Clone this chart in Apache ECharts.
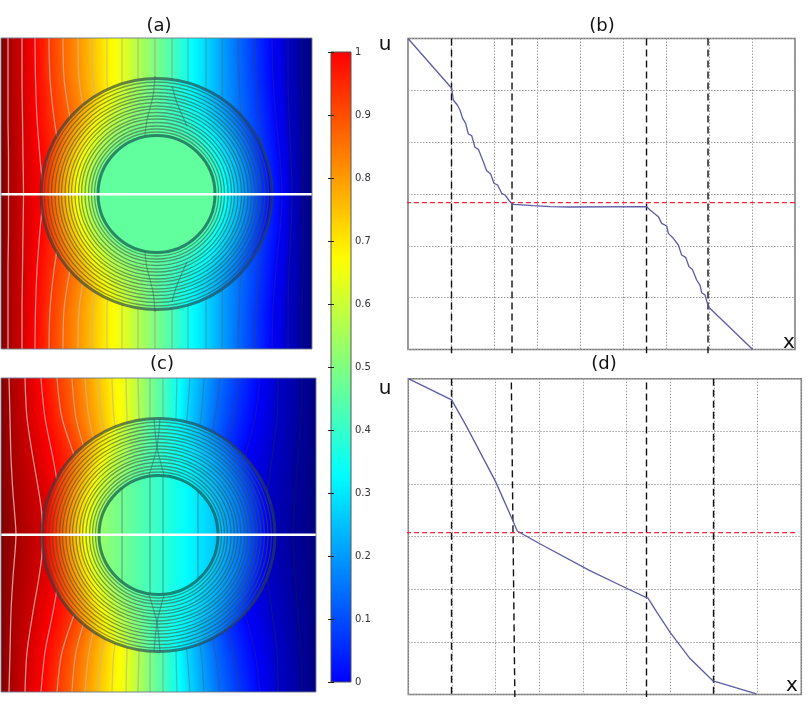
<!DOCTYPE html>
<html lang="en">
<head>
    <meta charset="UTF-8">
    <title>Potential maps and profiles</title>
    <script src="https://cdn.jsdelivr.net/npm/echarts@6/dist/echarts.min.js"></script>
    <style>
        html, body, #main {
            width: 812px;
            height: 712px;
            padding: 0;
            margin: 0;
            background: #fff;
        }
    </style>
</head>
<body>
<div id="main"></div>
<script>
    // colour table: u value -> colour (the map runs past the colour bar at both ends)
    var colorU = [-0.14, 0, 0.33, 0.5, 0.67, 1, 1.14];
    var colorRGB = [[0, 0, 127], [0, 0, 255], [0, 255, 255], [128, 255, 128], [255, 255, 0], [255, 0, 0], [127, 0, 0]];

    // u value of each contour, left to right, plus the values on the plot edges
    var contourLevels = [1.10, 1.05, 1.0, 0.93, 0.87, 0.81, 0.75, 0.69, 0.64, 0.57, 0.50, 0.43, 0.35, 0.28, 0.21, 0.14, 0.07, 0, -0.06, -0.11];
    var edgeLeft = 1.14;
    var edgeRight = -0.14;

    // panel (a): contour x read at each row y
    var rowsA = [0, 40, 80, 120, 156, 192, 232, 272, 311];
    var contoursA = [
        [7, 7, 7, 7.5, 7.5, 7.5, 7, 7, 7],
        [21, 21, 21.5, 22, 22.5, 22, 21.5, 21, 21],
        [34, 34.5, 36, 39, 42, 39, 36, 34.5, 34],
        [48, 49, 53, 59, 62, 59, 53, 49, 48],
        [62, 63, 69, 78, 82, 78, 69, 63, 62],
        [77, 78, 84, 92, 96, 92, 84, 78, 77],
        [91, 92, 97, 104, 108, 104, 97, 92, 91],
        [106, 106, 110, 115, 118, 115, 110, 106, 106],
        [121, 121, 124, 128, 130, 128, 124, 121, 121],
        [137, 137, 138, 140, 141, 140, 138, 137, 137],
        [154, 154, 154, 154, 154, 154, 154, 154, 154],
        [171, 171, 171, 171, 171, 171, 171, 171, 171],
        [187, 187, 188, 188, 188, 188, 188, 187, 187],
        [205, 205, 205, 205, 205, 205, 205, 205, 205],
        [221, 221, 222, 223, 223, 223, 222, 221, 221],
        [237, 238, 240, 242, 243, 242, 240, 238, 237],
        [254, 255, 258, 262, 263, 262, 258, 255, 254],
        [271, 272, 275, 279, 281, 279, 275, 272, 271],
        [287, 287, 288, 290, 291, 290, 288, 287, 287],
        [301, 301, 302, 302, 302, 302, 302, 301, 301]
    ];

    // panel (c)
    var rowsC = [0, 40, 80, 115, 140, 157, 174, 199, 234, 274, 314];
    var contoursC = [
        [8, 9, 10, 12, 14, 15, 14, 12, 10, 9, 8],
        [24, 26, 32, 38, 41, 41, 41, 38, 32, 26, 24],
        [40, 44, 52, 58, 62, 64, 62, 58, 52, 44, 40],
        [56, 61, 74, 85, 90, 92, 90, 85, 74, 61, 56],
        [71, 75, 86, 96, 101, 102, 101, 96, 86, 75, 71],
        [84, 88, 97, 106, 111, 113, 111, 106, 97, 88, 84],
        [97, 101, 109, 116, 121, 122, 121, 116, 109, 101, 97],
        [111, 113, 119, 124, 127, 128, 127, 124, 119, 113, 111],
        [125, 126, 128, 131, 133, 134, 133, 131, 128, 126, 125],
        [137, 138, 139, 141, 142, 142, 142, 141, 139, 138, 137],
        [149, 149, 149, 149, 149, 149, 149, 149, 149, 149, 149],
        [162, 162, 162, 162, 162, 162, 162, 162, 162, 162, 162],
        [176, 175, 174, 173, 172, 172, 172, 173, 174, 175, 176],
        [189, 186, 182, 179, 177, 176, 177, 179, 182, 186, 189],
        [203, 200, 194, 190, 187, 186, 187, 190, 194, 200, 203],
        [219, 214, 206, 199, 196, 194, 196, 199, 206, 214, 219],
        [239, 232, 222, 216, 211, 209, 211, 216, 222, 232, 239],
        [259, 254, 244, 238, 233, 231, 233, 238, 244, 254, 259],
        [277, 276, 271, 266, 262, 261, 262, 266, 271, 276, 277],
        [301, 300, 297, 294, 293, 292, 293, 294, 297, 300, 301]
    ];

    // concentric rings, outermost first. u read along the white line on each side
    var ringRadiusA = [115.5, 112, 108.5, 105, 101.5, 98, 95, 91.5, 88, 85, 81.5, 78, 75, 71.5, 68, 65, 62, 58.5];
    var ringLeftA = [0.97, 0.94, 0.91, 0.88, 0.85, 0.82, 0.79, 0.76, 0.73, 0.70, 0.67, 0.64, 0.61, 0.58, 0.55, 0.52, 0.49, 0.46];
    var ringRightA = [0, 0.03, 0.05, 0.08, 0.10, 0.13, 0.15, 0.18, 0.20, 0.23, 0.25, 0.28, 0.30, 0.33, 0.36, 0.39, 0.42, 0.46];
    var ringMidA = 0.46;

    var ringRadiusC = [116.5, 113, 109.5, 106, 102.5, 99, 96, 92.5, 89, 86, 82.5, 79, 76, 72.5, 69, 66, 63, 59.5];
    var ringLeftC = [1.04, 1.0, 0.98, 0.95, 0.92, 0.89, 0.86, 0.83, 0.80, 0.77, 0.74, 0.71, 0.68, 0.65, 0.62, 0.59, 0.56, 0.53];
    var ringRightC = [-0.05, -0.03, -0.01, 0.02, 0.04, 0.06, 0.08, 0.10, 0.12, 0.14, 0.15, 0.17, 0.18, 0.20, 0.21, 0.23, 0.24, 0.25];
    var ringMidC = 0.40;

    // faint contours inside the annulus and the disc: [x, y]
    var innerLinesA = [
        [[154, 38], [152, 58], [146, 82], [144, 97]],
        [[171, 48], [176, 65], [186, 88]],
        [[154, 274], [152, 254], [146, 230], [144, 215]],
        [[171, 264], [176, 247], [186, 224]]
    ];
    var innerLinesC = [
        [[159, 40], [156, 69], [148, 97]],
        [[153, 40], [156, 69], [163, 97]],
        [[159, 274], [156, 245], [148, 217]],
        [[153, 274], [156, 245], [163, 217]],
        [[121, 110], [121, 204]],
        [[149, 98], [149, 216]],
        [[162, 98], [162, 216]],
        [[197, 113], [197, 201]]
    ];

    var barRange = [0, 1];

    // profile (b): x in grid divisions, u in grid divisions
    var profileB = [[0, 6], [1.016, 5.04], [1.054, 5.007], [1.054, 4.814], [1.147, 4.717], [1.209, 4.621], [1.271, 4.46],
        [1.341, 4.364], [1.403, 4.158], [1.481, 4.126], [1.558, 3.901], [1.636, 3.862], [1.752, 3.624], [1.829, 3.45],
        [1.922, 3.386], [2.0, 3.206], [2.085, 3.174], [2.178, 3.013], [2.256, 2.981], [2.357, 2.865], [2.45, 2.801],
        [2.915, 2.775], [3.302, 2.756], [3.767, 2.749], [5.55, 2.756], [5.628, 2.691], [5.822, 2.563], [5.899, 2.434],
        [6.016, 2.383], [6.054, 2.241], [6.171, 2.145], [6.287, 2.016], [6.364, 1.823], [6.457, 1.778], [6.535, 1.598],
        [6.612, 1.547], [6.713, 1.341], [6.791, 1.244], [6.829, 1.096], [6.907, 1.052], [6.984, 0.826], [8.016, 0]];
    // dashed verticals: x at top, x at bottom, u where the dash starts
    var dashedB = [[1.012, 1.012, 6], [2.419, 2.419, 6], [5.547, 5.547, 6], [6.977, 6.977, 6]];
    var redB = 2.832;

    // profile (d)
    var profileD = [[0, 6], [0.992, 5.597], [1.336, 5.09], [1.999, 4.044], [2.388, 3.316], [2.495, 3.106], [2.991, 2.872],
        [4.158, 2.352], [4.997, 2.017], [5.493, 1.826], [5.683, 1.573], [5.996, 1.18], [6.446, 0.686], [6.98, 0.255], [7.972, 0.01]];
    var dashedD = [[0.99, 0.99, 6], [2.36, 2.44, 5.93], [5.455, 5.455, 5.93], [6.99, 6.99, 6]];
    var redD = 3.074;

    function jet(u) {
        u = Math.max(colorU[0], Math.min(colorU[colorU.length - 1], u));
        for (var i = 0; i < colorU.length - 1; i++) {
            if (u <= colorU[i + 1]) {
                var t = (u - colorU[i]) / (colorU[i + 1] - colorU[i]);
                var a = colorRGB[i], b = colorRGB[i + 1];
                return "rgb(" + Math.round(a[0] + (b[0] - a[0]) * t) + "," + Math.round(a[1] + (b[1] - a[1]) * t) + "," + Math.round(a[2] + (b[2] - a[2]) * t) + ")";
            }
        }
    }

    // gradient stops running through the given u values
    function stops(values, n) {
        var out = [];
        var parts = values.length - 1;
        for (var i = 0; i <= n; i++) {
            var p = i / n * parts;
            var k = Math.min(Math.floor(p), parts - 1);
            out.push({offset: i / n, color: jet(values[k] + (values[k + 1] - values[k]) * (p - k))});
        }
        return out;
    }

    function bandSeries(gridIndex, rows, table, xMax) {
        var levels = [edgeLeft].concat(contourLevels, [edgeRight]);
        var xs = rows.map(function (r, j) {
            return [0].concat(table.map(function (c) { return c[j]; }), [xMax]);
        });
        var cells = [];
        for (var i = 0; i < levels.length - 1; i++) {
            for (var j = 0; j < rows.length - 1; j++) {
                cells.push([i, j]);
            }
        }
        return {
            type: "custom",
            coordinateSystem: "cartesian2d",
            xAxisIndex: gridIndex,
            yAxisIndex: gridIndex,
            clip: true,
            silent: true,
            z: 1,
            data: cells,
            renderItem: function (params, api) {
                var i = api.value(0), j = api.value(1);
                var p = api.coord([xs[j][i], rows[j]]);
                var q = api.coord([xs[j][i + 1], rows[j]]);
                var r = api.coord([xs[j + 1][i + 1], rows[j + 1]]);
                var s = api.coord([xs[j + 1][i], rows[j + 1]]);
                // gradient runs across the band, square to its slanted edges
                var ex = (s[0] - p[0] + r[0] - q[0]) / 2, ey = (s[1] - p[1] + r[1] - q[1]) / 2;
                var len = Math.sqrt(ex * ex + ey * ey);
                var nx = ey / len, ny = -ex / len;
                var ax = (p[0] + s[0]) / 2, ay = (p[1] + s[1]) / 2;
                var d = Math.max(((q[0] + r[0]) / 2 - ax) * nx + ((q[1] + r[1]) / 2 - ay) * ny, 0.01);
                return {
                    type: "polygon",
                    shape: {points: [[p[0], p[1] - 0.6], [q[0] + 1, q[1] - 0.6], [r[0] + 1, r[1] + 0.6], [s[0], s[1] + 0.6]]},
                    style: {
                        fill: new echarts.graphic.LinearGradient(ax, ay, ax + nx * d, ay + ny * d, stops([levels[i], levels[i + 1]], 4), true)
                    }
                };
            }
        };
    }

    function ringSeries(gridIndex, center, radii, left, mid, right) {
        return {
            type: "custom",
            coordinateSystem: "cartesian2d",
            xAxisIndex: gridIndex,
            yAxisIndex: gridIndex,
            clip: true,
            silent: true,
            z: 3,
            data: radii.map(function (r, k) { return [k, 0]; }),
            renderItem: function (params, api) {
                var k = api.value(0);
                var c = api.coord(center);
                var r = api.size([radii[k], 0])[0];
                var outer = k === 0, inner = k === radii.length - 1;
                return {
                    type: "circle",
                    shape: {cx: c[0], cy: c[1], r: r},
                    style: {
                        fill: new echarts.graphic.LinearGradient(c[0] - r, 0, c[0] + r, 0, stops([left[k], mid, right[k]], 24), true),
                        stroke: outer ? "rgba(40,65,70,0.65)" : inner ? "rgba(15,85,75,0.7)" : "rgba(55,80,60,0.55)",
                        lineWidth: outer || inner ? 3 : 1.3
                    }
                };
            }
        };
    }

    function lineSeries(gridIndex, data, color, width, z, extra) {
        var s = {
            type: "line",
            xAxisIndex: gridIndex,
            yAxisIndex: gridIndex,
            data: data,
            symbol: "none",
            silent: true,
            clip: false,
            z: z,
            lineStyle: {color: color, width: width}
        };
        for (var k in extra) {
            s[k] = extra[k];
        }
        return s;
    }

    function contourColor(i) {
        // light lines over the warm side, dark and fainter over the cold side
        var t = i / (contourLevels.length - 1);
        var g = Math.round(250 - t * 215);
        return "rgba(" + g + "," + g + "," + g + "," + (0.62 - t * 0.3) + ")";
    }

    function mapSeries(gridIndex, rows, table, xMax, center, radii, left, mid, right, inner, whiteY, yMax) {
        var out = [bandSeries(gridIndex, rows, table, xMax)];
        table.forEach(function (c, i) {
            out.push(lineSeries(gridIndex, c.map(function (x, j) { return [x, rows[j]]; }), contourColor(i), 1.3, 2, {smooth: 0.3}));
        });
        out.push(ringSeries(gridIndex, center, radii, left, mid, right));
        inner.forEach(function (line) {
            out.push(lineSeries(gridIndex, line, "rgba(70,90,90,0.5)", 1.2, 4, {smooth: 0.3}));
        });
        out.push(lineSeries(gridIndex, [[0, whiteY], [xMax, whiteY]], "#fff", 2.6, 5));
        out.push(lineSeries(gridIndex, [[0, 0], [xMax, 0], [xMax, yMax], [0, yMax], [0, 0]], "rgba(110,125,140,0.9)", 1, 6));
        return out;
    }

    function profileSeries(gridIndex, curve, dashed, red, redFrom, redTo, yLow) {
        var out = [];
        dashed.forEach(function (d) {
            out.push(lineSeries(gridIndex, [[d[0], d[2]], [d[1], yLow]], "#111", 1.4, 3, {
                lineStyle: {color: "#111", width: 1.4, type: [7, 4]}
            }));
        });
        out.push(lineSeries(gridIndex, [[redFrom, red], [redTo, red]], "#e5283c", 1.2, 3, {
            lineStyle: {color: "#e5283c", width: 1.2, type: [5, 3]}
        }));
        out.push(lineSeries(gridIndex, curve, "#5c5ca6", 1.3, 4));
        return out;
    }

    function hiddenAxis(max, inverse) {
        return {type: "value", min: 0, max: max, inverse: inverse, show: false};
    }

    function profileAxis(max, interval) {
        return {
            type: "value",
            min: 0,
            max: max,
            interval: interval,
            axisLine: {show: false},
            axisTick: {show: false},
            axisLabel: {show: false},
            splitLine: {show: true, lineStyle: {color: "#a0a0a0", type: [1.5, 1.5], width: 1}}
        };
    }

    function label(text, left, top, size) {
        return {
            text: text,
            left: left,
            top: top,
            textAlign: "center",
            padding: 0,
            textStyle: {fontFamily: "DejaVu Sans", fontSize: size, fontWeight: "normal", color: "#111"}
        };
    }

    var series = []
        .concat(mapSeries(0, rowsA, contoursA, 311, [155.5, 156], ringRadiusA, ringLeftA, ringMidA, ringRightA, innerLinesA, 156.3, 311))
        .concat(mapSeries(1, rowsC, contoursC, 315, [157.5, 157], ringRadiusC, ringLeftC, ringMidC, ringRightC, innerLinesC, 156.8, 314))
        .concat(profileSeries(3, profileB, dashedB, redB, -0.05, 9.12, -0.07))
        .concat(profileSeries(4, profileD, dashedD, redD, -0.05, 8.89, -0.05));

    // colour bar body
    series.push({
        type: "custom",
        coordinateSystem: "cartesian2d",
        xAxisIndex: 2,
        yAxisIndex: 2,
        silent: true,
        z: 1,
        data: [barRange],
        renderItem: function (params, api) {
            var a = api.coord([0, 1]);
            var b = api.coord([1, 0]);
            return {
                type: "rect",
                shape: {x: a[0], y: a[1], width: b[0] - a[0], height: b[1] - a[1]},
                style: {fill: new echarts.graphic.LinearGradient(0, b[1], 0, a[1], stops([0, 1], 40), true)}
            };
        }
    });

    var barAxisBase = {
        type: "value",
        min: 0,
        max: 1,
        interval: 0.1,
        gridIndex: 2,
        z: 6,
        axisLine: {show: false},
        axisTick: {show: true, inside: true, length: 3, lineStyle: {color: "#222"}},
        splitLine: {show: false}
    };

    var option = {
        animation: false,
        backgroundColor: "#fff",
        title: [
            label("(a)", 159, 17, 18),
            label("(b)", 602, 17, 18),
            label("(c)", 162, 355, 18),
            label("(d)", 604, 355, 18),
            label("u", 385, 35, 20),
            label("x", 789, 333, 20),
            label("u", 385, 379, 20),
            label("x", 792, 676, 20)
        ],
        grid: [
            {left: 1, top: 38, width: 311, height: 311},
            {left: 1, top: 378, width: 315, height: 314},
            {left: 331, top: 52, width: 20, height: 630, show: true, borderColor: "#555", borderWidth: 1, z: 5},
            {left: 408, top: 38.5, width: 387, height: 311, show: true, borderColor: "#777", borderWidth: 1.5},
            {left: 408.3, top: 378.7, width: 393, height: 315.7, show: true, borderColor: "#777", borderWidth: 1.5}
        ],
        xAxis: [
            Object.assign(hiddenAxis(311, false), {gridIndex: 0}),
            Object.assign(hiddenAxis(315, false), {gridIndex: 1}),
            Object.assign(hiddenAxis(1, false), {gridIndex: 2}),
            Object.assign(profileAxis(9, 1), {gridIndex: 3}),
            Object.assign(profileAxis(9, 1), {gridIndex: 4})
        ],
        yAxis: [
            Object.assign(hiddenAxis(311, true), {gridIndex: 0}),
            Object.assign(hiddenAxis(314, true), {gridIndex: 1}),
            Object.assign({}, barAxisBase, {
                position: "right",
                axisLabel: {show: true, fontFamily: "DejaVu Sans", fontSize: 10, color: "#333", margin: 4, padding: [4, 0, 0, 0]}
            }),
            Object.assign(profileAxis(6, 1), {gridIndex: 3}),
            Object.assign(profileAxis(6, 1), {gridIndex: 4}),
            Object.assign({}, barAxisBase, {position: "left", axisLabel: {show: false}})
        ],
        series: series
    };

    var myChart = echarts.init(document.getElementById("main"), null, {renderer: "canvas"});
    myChart.setOption(option);
</script>
</body>
</html>
